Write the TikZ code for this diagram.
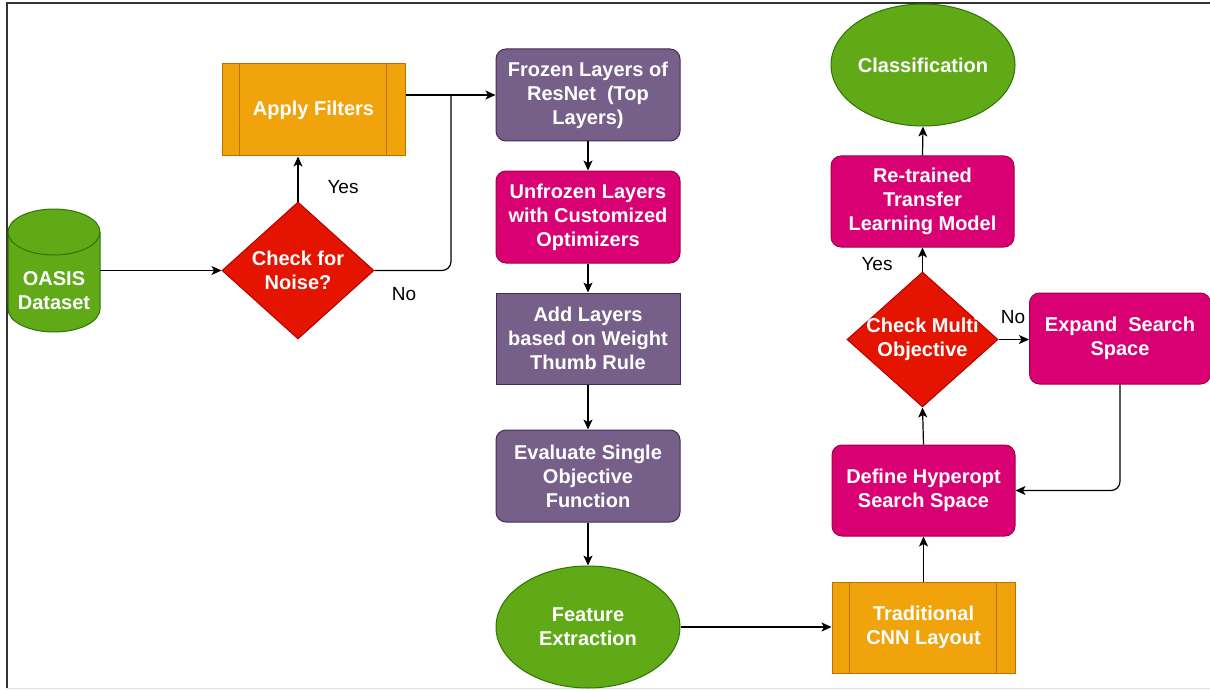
\documentclass[tikz,border=0pt]{standalone}
\usepackage{fontspec}
\setmainfont{Liberation Sans}
\usetikzlibrary{arrows.meta,shapes.geometric}

\definecolor{grnF}{HTML}{60A917}\definecolor{grnD}{HTML}{2D7600}
\definecolor{redF}{HTML}{E51400}\definecolor{redD}{HTML}{B20000}
\definecolor{orgF}{HTML}{F0A30A}\definecolor{orgD}{HTML}{BD7000}
\definecolor{purF}{HTML}{76608A}\definecolor{purD}{HTML}{432D57}
\definecolor{magF}{HTML}{D80073}\definecolor{magD}{HTML}{A50040}

\tikzset{
  box/.style={rectangle, minimum width=184pt, minimum height=92pt, inner sep=0pt,
    align=center, text=white, font=\fontsize{20}{24}\selectfont\bfseries, line width=1pt},
  roundbox/.style={box, rounded corners=10pt},
  purplebox/.style={draw=purD, fill=purF},
  magbox/.style={draw=magD, fill=magF},
  procbox/.style={box, draw=orgD, fill=orgF},
  oval/.style={ellipse, minimum width=184pt, minimum height=122pt, inner sep=0pt,
    draw=grnD, fill=grnF, align=center, text=white,
    font=\fontsize{20}{24}\selectfont\bfseries, line width=1pt},
  decision/.style={diamond, inner sep=0pt, draw=redD, fill=redF, line width=1pt},
  wtext/.style={align=center, text=white, font=\fontsize{20}{24}\selectfont\bfseries, inner sep=0pt},
  btext/.style={text=black, font=\fontsize{19}{22}\selectfont, inner sep=0pt},
  arr/.style={line width=1.2pt, -{Stealth[length=10pt,width=9pt,inset=2.5pt]}},
  ln/.style={line width=1.2pt}
}

\begin{document}
\begin{tikzpicture}[x=1pt,y=-1pt]
  \useasboundingbox (0,0) rectangle (1210,690);
  % frame
  \draw[black!80, line width=1.2pt] (7,688) -- (7,3) -- (1210,3);
  \draw[gray!25, line width=1pt] (7,688) -- (1210,688);

  % data store cylinder
  \fill[grnF] (8,232) -- (8,309) arc[start angle=180, end angle=360, x radius=46pt, y radius=23pt]
    -- (100,232) arc[start angle=0, end angle=180, x radius=46pt, y radius=23pt] -- cycle;
  \draw[grnD, line width=1pt] (8,232) -- (8,309) arc[start angle=180, end angle=360, x radius=46pt, y radius=23pt]
    -- (100,232) arc[start angle=0, end angle=360, x radius=46pt, y radius=23pt];
  \node[minimum width=92pt, minimum height=123pt, inner sep=0pt] (oasis) at (54,270.5) {};
  \node[wtext] (oasist) at (54,291) {OASIS\\Dataset};

  % left branch
  \node[decision, minimum width=152pt, minimum height=137pt] (noise) at (298,270.5) {};
  \node[wtext] (noiset) at (298,270.5) {Check for\\Noise?};
  \node[procbox, minimum width=183pt] (filters) at (313.5,110) {Apply Filters};
  \draw[orgD, line width=1pt] ([xshift=18pt]filters.north west) -- ([xshift=18pt]filters.south west)
    ([xshift=-19pt]filters.north east) -- ([xshift=-19pt]filters.south east);

  % middle column
  \node[roundbox, purplebox] (frozen) at (588,95) {Frozen Layers of\\ResNet\ \ (Top\\Layers)};
  \node[roundbox, magbox] (unfrozen) at (588,217) {Unfrozen Layers\\with Customized\\Optimizers};
  \node[box, purplebox, minimum height=91pt] (addl) at (588,338.5) {Add Layers\\based on Weight\\Thumb Rule};
  \node[roundbox, purplebox] (evalf) at (588,476) {Evaluate Single\\Objective\\Function};
  \node[oval] (feat) at (588,627) {Feature\\Extraction};

  % right column
  \node[procbox, minimum width=183pt, minimum height=91pt] (cnn) at (923.5,627.5) {Traditional\\CNN Layout};
  \draw[orgD, line width=1pt] ([xshift=18pt]cnn.north west) -- ([xshift=18pt]cnn.south west)
    ([xshift=-19pt]cnn.north east) -- ([xshift=-19pt]cnn.south east);
  \node[roundbox, magbox, minimum width=183pt, minimum height=91pt] (hyper) at (923.5,490.5) {Define Hyperopt\\Search Space};
  \node[decision, minimum width=151pt, minimum height=135pt] (multi) at (922.5,339.5) {};
  \node[wtext] (multit) at (922.5,339.5) {Check Multi\\Objective};
  \node[roundbox, magbox, minimum width=181pt, minimum height=91pt] (expand) at (1120,338.5) {Expand\ \ Search\\Space};
  \node[roundbox, magbox, minimum width=183pt, minimum height=91pt] (retrain) at (922.5,201.5) {Re-trained\\Transfer\\Learning Model};
  \node[oval] (classif) at (923,65) {Classification};

  % connectors, left part
  \draw[arr] (oasis.east) -- (noise.west);
  \draw[arr] (noise.north) -- (noise.north |- filters.south);
  \draw[arr] (frozen.west -| filters.east) -- (frozen.west);
  \coordinate (nojoin) at (451,95);
  \draw[ln, rounded corners=9pt] (noise.east) -| (nojoin);
  \node[btext] (yes1) at (343,187) {Yes};
  \node[btext] (no1) at (404,294) {No};

  % connectors, middle column
  \draw[arr] (frozen.south) -- (unfrozen.north);
  \draw[arr] (unfrozen.south) -- (addl.north);
  \draw[arr] (addl.south) -- (evalf.north);
  \draw[arr] (evalf.south) -- (feat.north);
  \draw[arr] (feat.east) -- (feat.east -| cnn.west);

  % connectors, right column
  \draw[arr] (cnn.north) -- (hyper.south);
  \draw[arr] (hyper.north) -- (multi.south);
  \draw[arr] (multi.east) -- (multi.east -| expand.west);
  \draw[arr, rounded corners=9pt] (expand.south) |- (hyper.east);
  \draw[arr] (multi.north) -- (retrain.south);
  \draw[arr] (retrain.north) -- (classif.south);
  \node[btext] (yes2) at (877,264) {Yes};
  \node[btext] (no2) at (1013,317) {No};
\end{tikzpicture}
\end{document}
